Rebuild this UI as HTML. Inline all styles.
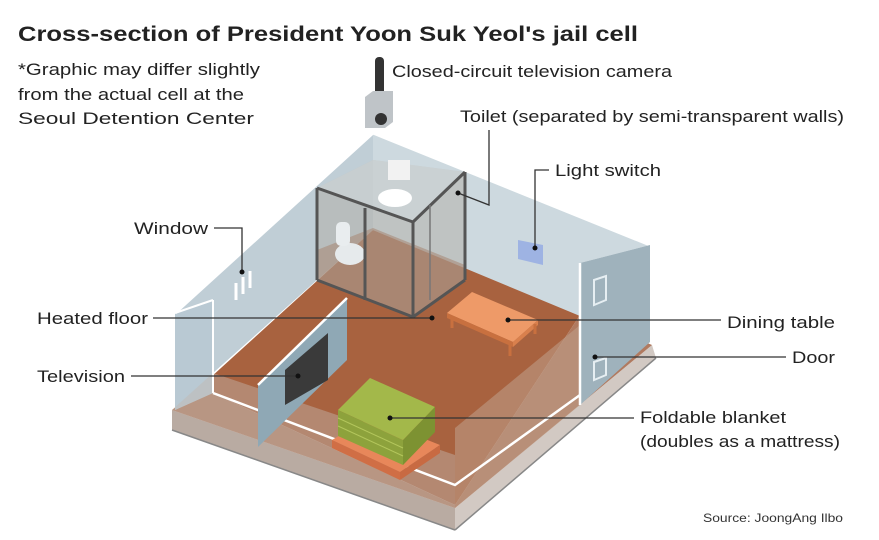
<!DOCTYPE html>
<html><head><meta charset="utf-8"><style>
html,body{margin:0;padding:0;background:#fff;}
svg{display:block;font-family:"Liberation Sans",sans-serif;}
</style></head><body>
<svg width="879" height="540" viewBox="0 0 879 540" xmlns="http://www.w3.org/2000/svg">
<rect width="879" height="540" fill="#fff"/>
<!-- base -->
<polygon points="172,410 455,508 455,530 172,430" fill="#b9aba2"/>
<polygon points="455,508 652,345 656,358 455,530" fill="#d2c9c3"/>
<line x1="172" y1="430" x2="455" y2="530" stroke="#888" stroke-width="1.5"/>
<line x1="455" y1="530" x2="656" y2="358" stroke="#888" stroke-width="1.5"/>
<!-- floor -->
<polygon points="373,230 580,315 455,505 200,387" fill="#a8623f"/>
<polygon points="172,410 200,387 455,505 580,315 652,345 455,508" fill="#b07a60"/>
<!-- back wall -->
<polygon points="373,133 650,245 580,263 580,316 373,230" fill="#cdd9df"/>
<!-- left wall -->
<polygon points="373,133 373,230 213,373 213,393 175,410 175,313" fill="#c0ced6"/>
<polygon points="175,313 213,300 213,393 175,410" fill="#b6c8d2" opacity="0.8"/>
<line x1="373" y1="133" x2="650" y2="245" stroke="#fff" stroke-width="3"/>
<line x1="373" y1="133" x2="175" y2="313" stroke="#fff" stroke-width="3"/>
<!-- front translucent walls -->
<polygon points="172,410 455,508 455,455 213,373" fill="#c4b8b0" opacity="0.45"/>
<polygon points="455,428 580,325 580,405 455,508" fill="#c0a08c" opacity="0.55"/>
<polyline points="213,393 455,485 580,395" fill="none" stroke="#fff" stroke-width="2.5"/>
<line x1="175" y1="313" x2="213" y2="300" stroke="#fff" stroke-width="2"/>
<line x1="213" y1="300" x2="213" y2="393" stroke="#fff" stroke-width="2"/>
<!-- door wall -->
<polygon points="580,263 650,245 650,342 580,405" fill="#9fb2bc"/>
<line x1="580" y1="263" x2="580" y2="405" stroke="#fff" stroke-width="2.5"/>
<polygon points="594,280 606,276 606,300 594,305" fill="none" stroke="#e6eef2" stroke-width="2"/>
<polygon points="594,362 606,358 606,375 594,380" fill="none" stroke="#e6eef2" stroke-width="2"/>
<!-- window -->
<g stroke="#fff" stroke-width="3"><line x1="236" y1="283" x2="236" y2="300"/><line x1="243" y1="277" x2="243" y2="294"/><line x1="250" y1="271" x2="250" y2="288"/></g>
<!-- light switch -->
<polygon points="518,240 543,245 543,265 518,259" fill="#9eb3e3"/>
<!-- toilet enclosure -->
<polygon points="317,188 373,160 465,172 465,280 413,317 317,280" fill="#b0a8a0" opacity="0.45"/>
<polygon points="317,250 373,228 465,265 465,280 413,317 317,280" fill="#a88a78" opacity="0.6"/>
<polygon points="373,160 465,172 413,222 317,188" fill="#d6dfe4" opacity="0.5"/>
<ellipse cx="395" cy="198" rx="17" ry="9" fill="#fff"/>
<rect x="388" y="160" width="22" height="20" fill="#f2f2f2"/>
<ellipse cx="350" cy="254" rx="15" ry="11" fill="#e6eaec"/>
<rect x="336" y="222" width="14" height="24" rx="5" fill="#e9edef"/>
<g stroke="#555" stroke-width="3" fill="none">
<line x1="317" y1="188" x2="317" y2="280"/>
<line x1="413" y1="222" x2="413" y2="317"/>
<line x1="465" y1="172" x2="465" y2="280"/>
<line x1="365" y1="208" x2="365" y2="300"/>
<line x1="317" y1="188" x2="413" y2="222"/>
<line x1="413" y1="222" x2="465" y2="172"/>
<line x1="317" y1="280" x2="413" y2="317"/>
<line x1="413" y1="317" x2="465" y2="280"/>
</g>
<line x1="430" y1="205" x2="430" y2="300" stroke="#777" stroke-width="1.5"/>
<!-- dining table -->
<polygon points="447,313 472,292 538,320 513,342" fill="#ee9a68"/>
<polygon points="447,313 513,342 513,347 447,318" fill="#c8703f"/>
<polygon points="513,342 538,320 538,325 513,347" fill="#d9804d"/>
<g stroke="#c8703f" stroke-width="3"><line x1="452" y1="317" x2="452" y2="328"/><line x1="510" y1="344" x2="510" y2="356"/><line x1="535" y1="324" x2="535" y2="334"/></g>
<!-- TV partition -->
<polygon points="258,385 347,298 347,360 258,447" fill="#8fa8b5"/>
<line x1="258" y1="385" x2="347" y2="298" stroke="#fff" stroke-width="2.5"/>
<polygon points="285,370 328,333 328,380 285,405" fill="#3a3a3a"/>
<!-- blanket -->
<polygon points="332,440 370,417 440,445 400,472" fill="#e8875a"/>
<polygon points="332,440 400,472 400,480 332,448" fill="#d06e45"/>
<polygon points="400,472 440,445 440,453 400,480" fill="#c86a42"/>
<polygon points="338,410 370,378 435,407 403,440" fill="#a3b84a"/>
<polygon points="338,410 403,440 403,465 338,436" fill="#8da23c"/>
<polygon points="403,440 435,407 435,432 403,465" fill="#7d9232"/>
<g stroke="#b3c65c" stroke-width="1"><line x1="338" y1="418" x2="403" y2="448"/><line x1="338" y1="426" x2="403" y2="456"/></g>
<!-- camera -->
<rect x="375" y="57" width="9" height="45" rx="4" fill="#333"/>
<polygon points="365,97 373,91 393,91 393,122 385,128 365,128" fill="#bfc4c8"/>
<circle cx="381" cy="119" r="6" fill="#333"/>
<!-- leaders -->
<g stroke="#333" stroke-width="1.3" fill="none">
<polyline points="214,228 242,228 242,272"/>
<line x1="153" y1="318" x2="432" y2="318"/>
<line x1="131" y1="376" x2="298" y2="376"/>
<polyline points="489,130 489,205 458,193"/>
<polyline points="549,170 535,170 535,248"/>
<line x1="508" y1="320" x2="721" y2="320"/>
<line x1="595" y1="357" x2="786" y2="357"/>
<line x1="390" y1="418" x2="634" y2="418"/>
</g>
<g fill="#111">
<circle cx="242" cy="272" r="2.5"/><circle cx="432" cy="318" r="2.5"/><circle cx="298" cy="376" r="2.5"/>
<circle cx="458" cy="193" r="2.5"/><circle cx="535" cy="248" r="2.5"/><circle cx="508" cy="320" r="2.5"/>
<circle cx="595" cy="357" r="2.5"/><circle cx="390" cy="418" r="2.5"/>
</g>
<!-- text -->
<text x="18" y="41" font-size="21" font-weight="bold" fill="#222" textLength="620" lengthAdjust="spacingAndGlyphs">Cross-section of President Yoon Suk Yeol's jail cell</text>
<g font-size="17" fill="#222">
<text x="18" y="75" textLength="242" lengthAdjust="spacingAndGlyphs">*Graphic may differ slightly</text>
<text x="18" y="100" textLength="226" lengthAdjust="spacingAndGlyphs">from the actual cell at the</text>
<text x="18" y="124" textLength="236" lengthAdjust="spacingAndGlyphs">Seoul Detention Center</text>
<text x="392" y="77" textLength="280" lengthAdjust="spacingAndGlyphs">Closed-circuit television camera</text>
<text x="460" y="122" textLength="384" lengthAdjust="spacingAndGlyphs">Toilet (separated by semi-transparent walls)</text>
<text x="555" y="176" textLength="106" lengthAdjust="spacingAndGlyphs">Light switch</text>
<text x="134" y="234" textLength="74" lengthAdjust="spacingAndGlyphs">Window</text>
<text x="37" y="324" textLength="111" lengthAdjust="spacingAndGlyphs">Heated floor</text>
<text x="37" y="382" textLength="88" lengthAdjust="spacingAndGlyphs">Television</text>
<text x="727" y="328" textLength="108" lengthAdjust="spacingAndGlyphs">Dining table</text>
<text x="792" y="363" textLength="43" lengthAdjust="spacingAndGlyphs">Door</text>
<text x="640" y="423" textLength="146" lengthAdjust="spacingAndGlyphs">Foldable blanket</text>
<text x="640" y="447" textLength="200" lengthAdjust="spacingAndGlyphs">(doubles as a mattress)</text>
</g>
<text x="703" y="522" font-size="12" fill="#333" textLength="140" lengthAdjust="spacingAndGlyphs">Source: JoongAng Ilbo</text>
</svg>
</body></html>
